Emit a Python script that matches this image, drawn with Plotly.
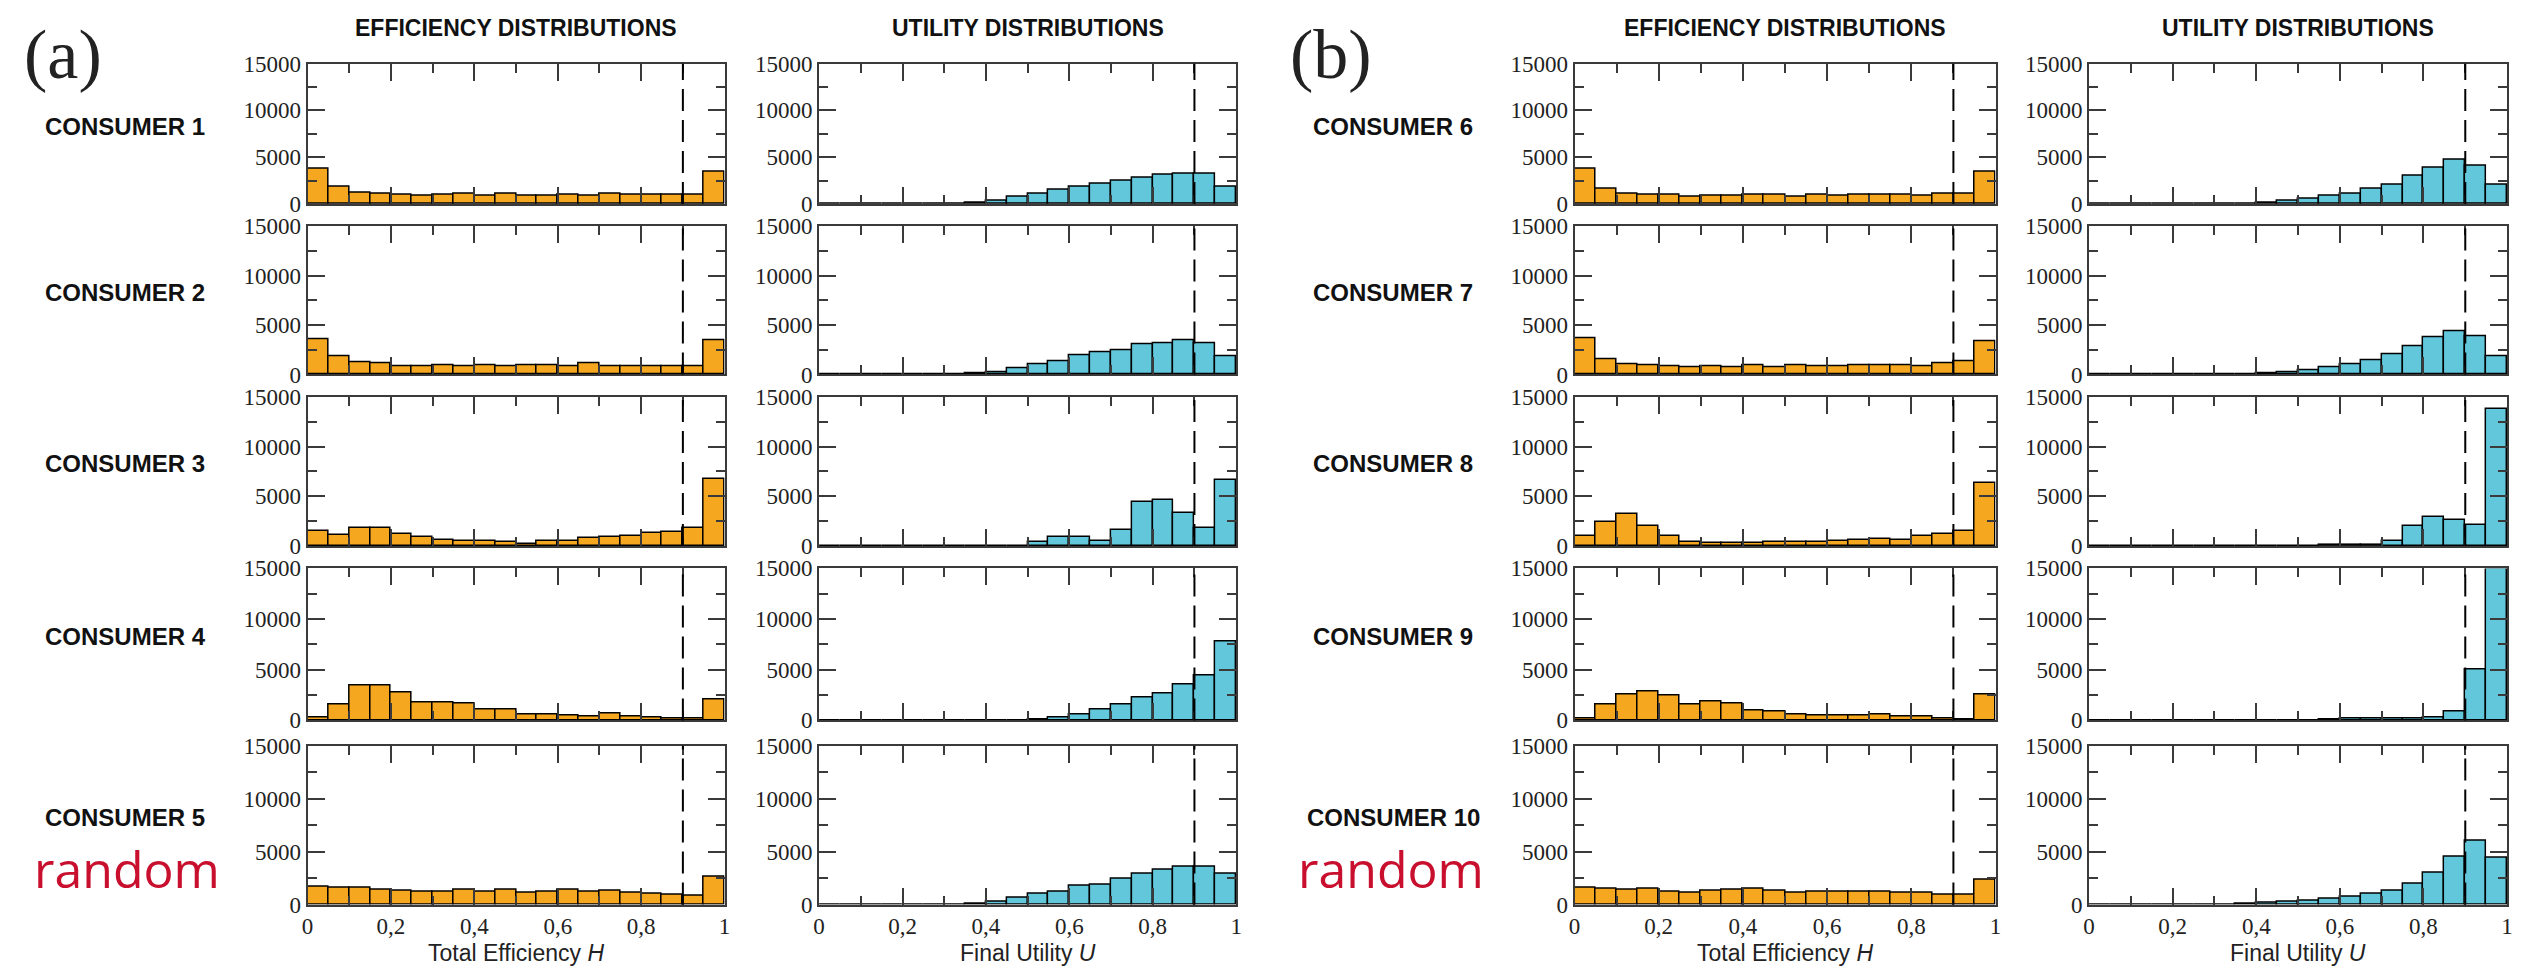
import plotly.graph_objects as go

# ---------------- data ----------------
bin_edges = [0.0, 0.05, 0.1, 0.15, 0.2, 0.25, 0.3, 0.35, 0.4, 0.45, 0.5,
             0.55, 0.6, 0.65, 0.7, 0.75, 0.8, 0.85, 0.9, 0.95, 1.0]
threshold = 0.9

consumers = ["CONSUMER 1", "CONSUMER 2", "CONSUMER 3", "CONSUMER 4", "CONSUMER 5",
             "CONSUMER 6", "CONSUMER 7", "CONSUMER 8", "CONSUMER 9", "CONSUMER 10"]

eff_c1 = [3800, 1800, 1250, 1150, 950, 880, 950, 1050, 880, 1100, 880, 880, 950, 880, 1050, 950, 950, 950, 950, 3500]
eff_c2 = [3600, 1800, 1250, 1150, 800, 800, 900, 800, 900, 800, 900, 900, 800, 1100, 800, 800, 800, 850, 850, 3500]
eff_c3 = [1500, 1100, 1850, 1800, 1250, 900, 660, 500, 500, 430, 260, 560, 500, 830, 900, 1000, 1300, 1400, 1800, 6700]
eff_c4 = [250, 1600, 3500, 3500, 2800, 1800, 1800, 1700, 1050, 1050, 600, 600, 520, 430, 700, 430, 330, 200, 200, 2100]
eff_c5 = [1700, 1550, 1550, 1400, 1330, 1170, 1170, 1400, 1240, 1400, 1080, 1240, 1400, 1170, 1330, 1080, 1020, 930, 830, 2600]
eff_c6 = [3800, 1600, 1150, 950, 950, 800, 880, 880, 950, 950, 780, 950, 880, 950, 950, 950, 880, 1150, 1150, 3450]
eff_c7 = [3700, 1500, 1000, 900, 830, 750, 830, 750, 900, 700, 900, 830, 830, 900, 900, 900, 830, 1100, 1300, 3350]
eff_c8 = [1000, 2400, 3250, 2050, 1000, 450, 350, 350, 350, 450, 400, 400, 550, 650, 750, 650, 1000, 1200, 1550, 6300]
eff_c9 = [150, 1600, 2600, 2900, 2450, 1600, 1900, 1700, 1000, 900, 550, 480, 480, 480, 550, 350, 350, 180, 80, 2550]
eff_c10 = [1550, 1500, 1400, 1500, 1250, 1100, 1350, 1400, 1500, 1350, 1150, 1250, 1250, 1250, 1250, 1150, 1100, 900, 900, 2300]

util_c1 = [0, 0, 0, 0, 0, 0, 30, 150, 400, 800, 1100, 1550, 1900, 2200, 2500, 2800, 3150, 3200, 3200, 1800]
util_c2 = [0, 0, 0, 0, 0, 0, 20, 80, 250, 650, 1000, 1350, 1900, 2200, 2450, 3000, 3200, 3450, 3150, 1850]
util_c3 = [0, 0, 0, 0, 0, 0, 0, 0, 0, 50, 450, 950, 950, 550, 1600, 4450, 4650, 3300, 1800, 6600]
util_c4 = [0, 0, 0, 0, 0, 0, 0, 0, 0, 0, 80, 250, 600, 1050, 1550, 2250, 2700, 3550, 4400, 7800]
util_c5 = [0, 0, 0, 0, 0, 0, 20, 60, 250, 630, 1050, 1250, 1800, 1850, 2400, 2900, 3250, 3600, 3600, 2900]
util_c6 = [0, 0, 0, 0, 0, 0, 20, 60, 180, 350, 600, 880, 1150, 1600, 2100, 3000, 3900, 4700, 4050, 2100]
util_c7 = [0, 0, 0, 0, 0, 0, 0, 30, 100, 230, 430, 670, 1050, 1450, 2000, 2850, 3750, 4350, 3850, 1800]
util_c8 = [0, 0, 0, 0, 0, 0, 0, 0, 0, 0, 30, 60, 100, 150, 550, 2000, 2950, 2650, 2150, 13800]
util_c9 = [0, 0, 0, 0, 0, 0, 0, 0, 0, 0, 50, 100, 150, 150, 200, 200, 250, 900, 5000, 15000]
util_c10 = [0, 0, 0, 0, 0, 0, 30, 60, 150, 250, 380, 560, 700, 1000, 1350, 1950, 3050, 4500, 6000, 4450]

eff_all = [eff_c1, eff_c2, eff_c3, eff_c4, eff_c5, eff_c6, eff_c7, eff_c8, eff_c9, eff_c10]
util_all = [util_c1, util_c2, util_c3, util_c4, util_c5, util_c6, util_c7, util_c8, util_c9, util_c10]

x_tickvals = [0, 0.2, 0.4, 0.6, 0.8, 1]
x_ticktext = ["0", "0,2", "0,4", "0,6", "0,8", "1"]
x_minor = [0.1, 0.3, 0.5, 0.7, 0.9]
y_tickvals = [0, 5000, 10000, 15000]
y_ticktext = ["0", "5000", "10000", "15000"]
y_minor = [2500, 7500, 12500]

# ---------------- layout geometry (pixels) ----------------
W, H = 2528, 977
cols = [(303, 722), (817, 1236), (1576, 1999), (2093, 2513)]
rows = [(53, 197), (220, 372), (395, 548), (571, 727), (753, 916)]

ORANGE = "#F5A71F"
CYAN = "#63C7DC"
FRAME = "#3a3a3a"

centers = [(bin_edges[i] + bin_edges[i + 1]) / 2 for i in range(len(bin_edges) - 1)]
widths = [bin_edges[i + 1] - bin_edges[i] for i in range(len(bin_edges) - 1)]

fig = go.Figure()
layout = {}
shapes = []
n = 0
for k in range(10):
    panel = k // 5
    r = k % 5
    for j, (vals, color) in enumerate([(eff_all[k], ORANGE), (util_all[k], CYAN)]):
        n += 1
        c = panel * 2 + j
        x0, x1 = cols[c]
        t, b = rows[r]
        xn = "x" if n == 1 else f"x{n}"
        yn = "y" if n == 1 else f"y{n}"
        fig.add_trace(go.Bar(
            x=centers, y=vals, width=widths,
            marker=dict(color=color, line=dict(color="black", width=1.5)),
            xaxis=xn, yaxis=yn, showlegend=False, hoverinfo="skip"))
        layout["xaxis" if n == 1 else f"xaxis{n}"] = dict(
            domain=[x0 / W, x1 / W], anchor=yn, range=[0, 1],
            showline=True, mirror="ticks", linecolor=FRAME, linewidth=2,
            ticks="inside", ticklen=17, tickwidth=2, tickcolor=FRAME,
            tickmode="array", tickvals=x_tickvals, ticktext=x_ticktext,
            showticklabels=(r == 4),
            minor=dict(ticks="inside", ticklen=9, tickwidth=2, tickcolor=FRAME,
                       tickmode="array", tickvals=x_minor, showgrid=False),
            showgrid=False, zeroline=False, fixedrange=True,
            tickfont=dict(family="Liberation Serif", size=23, color="#222"))
        layout["yaxis" if n == 1 else f"yaxis{n}"] = dict(
            domain=[1 - b / H, 1 - t / H], anchor=xn, range=[0, 15000],
            showline=True, mirror="ticks", linecolor=FRAME, linewidth=2,
            ticks="inside", ticklen=17, tickwidth=2, tickcolor=FRAME,
            tickmode="array", tickvals=y_tickvals, ticktext=y_ticktext,
            minor=dict(ticks="inside", ticklen=9, tickwidth=2, tickcolor=FRAME,
                       tickmode="array", tickvals=y_minor, showgrid=False),
            showgrid=False, zeroline=False, fixedrange=True,
            tickfont=dict(family="Liberation Serif", size=23, color="#222"))
        shapes.append(dict(type="line", xref=xn, yref=f"{yn} domain",
                           x0=threshold, x1=threshold, y0=0, y1=1,
                           line=dict(color="black", width=2, dash="22px,9px")))

annotations = []
title_font = dict(family="Liberation Sans", size=23, color="#111")
label_font = dict(family="Liberation Sans", size=24, color="#111")
for p in range(2):
    ec, uc = cols[p * 2], cols[p * 2 + 1]
    annotations.append(dict(text="<b>EFFICIENCY DISTRIBUTIONS</b>", x=(ec[0] + ec[1]) / 2 / W, y=1 - 16 / H,
                            xref="paper", yref="paper", showarrow=False, font=title_font,
                            xanchor="center", yanchor="middle"))
    annotations.append(dict(text="<b>UTILITY DISTRIBUTIONS</b>", x=(uc[0] + uc[1]) / 2 / W, y=1 - 16 / H,
                            xref="paper", yref="paper", showarrow=False, font=title_font,
                            xanchor="center", yanchor="middle"))
    annotations.append(dict(text="Total Efficiency <i>H</i>", x=(ec[0] + ec[1]) / 2 / W, y=1 - 966 / H,
                            xref="paper", yref="paper", showarrow=False,
                            font=dict(family="Liberation Sans", size=23, color="#222"),
                            xanchor="center", yanchor="middle"))
    annotations.append(dict(text="Final Utility <i>U</i>", x=(uc[0] + uc[1]) / 2 / W, y=1 - 966 / H,
                            xref="paper", yref="paper", showarrow=False,
                            font=dict(family="Liberation Sans", size=23, color="#222"),
                            xanchor="center", yanchor="middle"))
    lab_x = [120, 1394][p]
    for r in range(5):
        t, b = rows[r]
        annotations.append(dict(text=f"<b>{consumers[p * 5 + r]}</b>", x=lab_x / W, y=1 - ((t + b) / 2 - 8) / H,
                                xref="paper", yref="paper", showarrow=False, font=label_font,
                                xanchor="center", yanchor="middle"))
    annotations.append(dict(text="random", x=[26, 1296][p] / W, y=1 - 880 / H,
                            xref="paper", yref="paper", showarrow=False,
                            font=dict(family="Open Sans", size=50, color="#C8102E"),
                            xanchor="left", yanchor="middle"))
    annotations.append(dict(text=["(a)", "(b)"][p], x=[57, 1331][p] / W, y=1 - 44 / H,
                            xref="paper", yref="paper", showarrow=False,
                            font=dict(family="Liberation Serif", size=70, color="#222"),
                            xanchor="center", yanchor="middle"))

fig.update_layout(**layout)
fig.update_layout(width=W, height=H, margin=dict(l=0, r=0, t=0, b=0),
                  paper_bgcolor="white", plot_bgcolor="white",
                  bargap=0, shapes=shapes, annotations=annotations)

fig.write_html("out.html")
